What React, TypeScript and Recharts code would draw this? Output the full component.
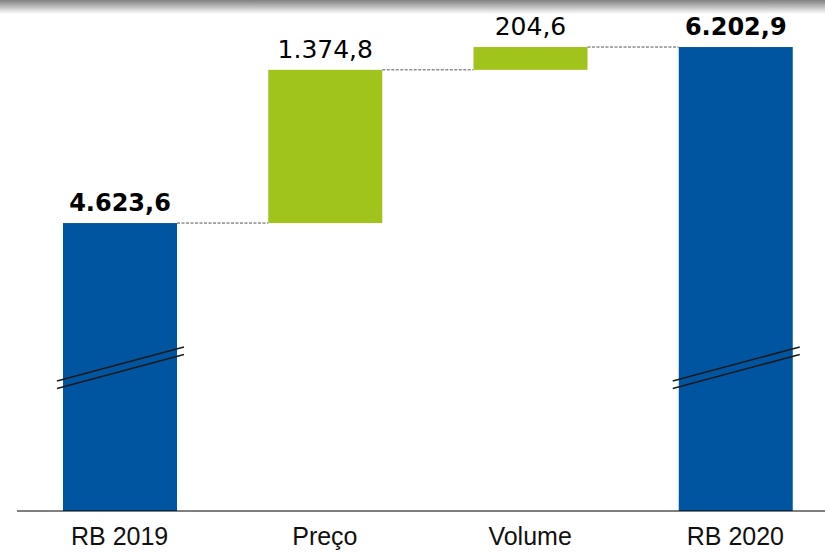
import React from 'react';
import { BarChart, Bar, XAxis, YAxis, Cell } from 'recharts';

const categories = ['RB 2019', 'Preço', 'Volume', 'RB 2020'];
const values = [4623.6, 1374.8, 204.6, 6202.9];
const kinds = ['total', 'delta', 'delta', 'total'];
const valueLabels = ['4.623,6', '1.374,8', '204,6', '6.202,9'];
const boldLabels = [true, false, false, true];

const Y_MIN = 2040;
const Y_MAX = 6625;

const BLUE = '#0055A1';
const GREEN = '#A0C41B';

const CHART_W = 838;
const CHART_H = 554;
const MARGIN_LEFT = 17;
const AXIS_H = 43;
const BAR_SIZE = 114;
const BAND = (CHART_W - MARGIN_LEFT) / categories.length;
const GAP = BAND - BAR_SIZE;

let running = 0;
const data = categories.map((name, i) => {
  let low: number;
  let high: number;
  if (kinds[i] === 'total') {
    low = Y_MIN;
    high = values[i];
    running = values[i];
  } else {
    low = running;
    high = running + values[i];
    running = high;
  }
  return { name, range: [low, high], kind: kinds[i], label: valueLabels[i], bold: boldLabels[i] };
});

const BarShape = (props: any) => {
  const { x, y, width, height, index, fill } = props;
  const entry = data[index];
  const bottom = y + height;
  const isTotal = entry.kind === 'total';
  return (
    <g>
      <rect x={x} y={y} width={width} height={height} fill={fill} />
      {isTotal && (
        <g stroke="#1a1a1a" strokeWidth={1.5}>
          <line x1={x - 6} y1={bottom - 130} x2={x + width + 7} y2={bottom - 164} />
          <line x1={x - 6} y1={bottom - 122.5} x2={x + width + 7} y2={bottom - 156.5} />
        </g>
      )}
      {index < data.length - 1 && (
        <line
          x1={x + width}
          y1={y}
          x2={x + width + GAP}
          y2={y}
          stroke="#555"
          strokeWidth={1}
          strokeDasharray="3 1.5"
        />
      )}
      <text
        x={x + width / 2}
        y={y - 12}
        textAnchor="middle"
        fontFamily="'DejaVu Sans', sans-serif"
        fontSize={entry.bold ? 24 : 25}
        fontWeight={entry.bold ? 700 : 400}
        fill="#000"
      >
        {entry.label}
      </text>
    </g>
  );
};

const Tick = (props: any) => {
  const { x, y, payload } = props;
  return (
    <text
      x={x}
      y={y + 34}
      textAnchor="middle"
      fontFamily="'Liberation Sans', Arial, sans-serif"
      fontSize={25}
      fill="#111"
    >
      {payload.value}
    </text>
  );
};

export default function App() {
  return (
    <div
      style={{
        position: 'fixed',
        left: 0,
        top: 0,
        width: 825,
        height: 554,
        overflow: 'hidden',
        background: '#fff',
      }}
    >
      <BarChart
        width={CHART_W}
        height={CHART_H}
        data={data}
        margin={{ top: 0, right: 0, left: MARGIN_LEFT, bottom: 0 }}
      >
        <XAxis
          dataKey="name"
          height={AXIS_H}
          tickLine={false}
          tickSize={0}
          tickMargin={0}
          axisLine={{ stroke: '#000', strokeWidth: 1 }}
          tick={<Tick />}
          interval={0}
        />
        <YAxis hide width={0} domain={[Y_MIN, Y_MAX]} allowDataOverflow />
        <Bar dataKey="range" barSize={BAR_SIZE} isAnimationActive={false} shape={<BarShape />}>
          {data.map((d, i) => (
            <Cell key={i} fill={d.kind === 'total' ? BLUE : GREEN} />
          ))}
        </Bar>
      </BarChart>
      <div
        style={{
          position: 'absolute',
          left: 0,
          top: 0,
          width: 825,
          height: 14,
          background: 'linear-gradient(to bottom, #808080, rgba(255,255,255,0))',
          pointerEvents: 'none',
        }}
      />
    </div>
  );
}
